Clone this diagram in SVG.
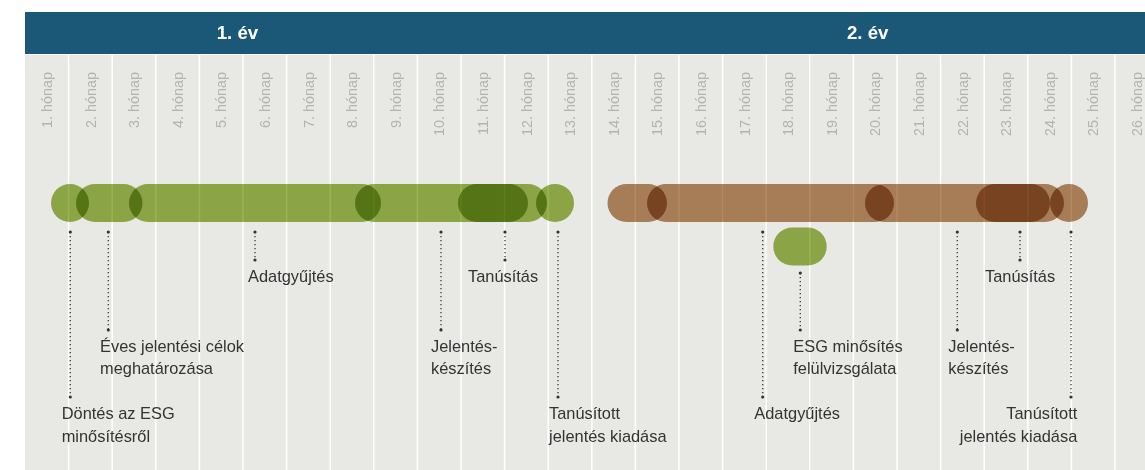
<svg xmlns="http://www.w3.org/2000/svg" width="1145" height="470" viewBox="0 0 1145 470">
<style>
.hdr{fill:#1b5878}
.bg{fill:#e8e8e4}
.grid line{stroke:#ffffff;stroke-width:1.5}
.mon{font-family:"Liberation Sans",Arial,sans-serif;font-size:14.4px;fill:#b4b4ae;text-anchor:end}
.yr{font-family:"Liberation Sans",Arial,sans-serif;font-size:18.7px;font-weight:bold;fill:#ffffff;text-anchor:middle}
.g{fill:#99b44e;mix-blend-mode:multiply}
.b{fill:#b78960;mix-blend-mode:multiply}
.lbl{font-family:"Liberation Sans",Arial,sans-serif;font-size:16.4px;fill:#333333}
.end{text-anchor:end}
.con line{stroke:#444444;stroke-width:1.4;stroke-dasharray:1.3 2.7}
.con circle{fill:#333333}
</style>
<rect class="hdr" x="25" y="12" width="1120" height="42"/>
<rect class="bg" x="25" y="55" width="1120" height="415"/>
<g id="grid" class="grid">
<line x1="68.6" y1="55" x2="68.6" y2="470"/>
<line x1="112.2" y1="55" x2="112.2" y2="470"/>
<line x1="155.8" y1="55" x2="155.8" y2="470"/>
<line x1="199.4" y1="55" x2="199.4" y2="470"/>
<line x1="243" y1="55" x2="243" y2="470"/>
<line x1="286.6" y1="55" x2="286.6" y2="470"/>
<line x1="330.2" y1="55" x2="330.2" y2="470"/>
<line x1="373.8" y1="55" x2="373.8" y2="470"/>
<line x1="417.4" y1="55" x2="417.4" y2="470"/>
<line x1="461" y1="55" x2="461" y2="470"/>
<line x1="504.6" y1="55" x2="504.6" y2="470"/>
<line x1="548.2" y1="55" x2="548.2" y2="470"/>
<line x1="591.8" y1="55" x2="591.8" y2="470"/>
<line x1="635.4" y1="55" x2="635.4" y2="470"/>
<line x1="679" y1="55" x2="679" y2="470"/>
<line x1="722.6" y1="55" x2="722.6" y2="470"/>
<line x1="766.2" y1="55" x2="766.2" y2="470"/>
<line x1="809.8" y1="55" x2="809.8" y2="470"/>
<line x1="853.4" y1="55" x2="853.4" y2="470"/>
<line x1="897" y1="55" x2="897" y2="470"/>
<line x1="940.6" y1="55" x2="940.6" y2="470"/>
<line x1="984.2" y1="55" x2="984.2" y2="470"/>
<line x1="1027.8" y1="55" x2="1027.8" y2="470"/>
<line x1="1071.4" y1="55" x2="1071.4" y2="470"/>
<line x1="1115" y1="55" x2="1115" y2="470"/>
</g>
<g id="years">
<text class="yr" x="237.5" y="39">1. év</text>
<text class="yr" x="867.7" y="39">2. év</text>
</g>
<g id="months">
<text class="mon" transform="translate(52,72) rotate(-90)">1. hónap</text>
<text class="mon" transform="translate(95.6,72) rotate(-90)">2. hónap</text>
<text class="mon" transform="translate(139.2,72) rotate(-90)">3. hónap</text>
<text class="mon" transform="translate(182.8,72) rotate(-90)">4. hónap</text>
<text class="mon" transform="translate(226.4,72) rotate(-90)">5. hónap</text>
<text class="mon" transform="translate(270,72) rotate(-90)">6. hónap</text>
<text class="mon" transform="translate(313.6,72) rotate(-90)">7. hónap</text>
<text class="mon" transform="translate(357.2,72) rotate(-90)">8. hónap</text>
<text class="mon" transform="translate(400.8,72) rotate(-90)">9. hónap</text>
<text class="mon" transform="translate(444.4,72) rotate(-90)">10. hónap</text>
<text class="mon" transform="translate(488,72) rotate(-90)">11. hónap</text>
<text class="mon" transform="translate(531.6,72) rotate(-90)">12. hónap</text>
<text class="mon" transform="translate(575.2,72) rotate(-90)">13. hónap</text>
<text class="mon" transform="translate(618.8,72) rotate(-90)">14. hónap</text>
<text class="mon" transform="translate(662.4,72) rotate(-90)">15. hónap</text>
<text class="mon" transform="translate(706,72) rotate(-90)">16. hónap</text>
<text class="mon" transform="translate(749.6,72) rotate(-90)">17. hónap</text>
<text class="mon" transform="translate(793.2,72) rotate(-90)">18. hónap</text>
<text class="mon" transform="translate(836.8,72) rotate(-90)">19. hónap</text>
<text class="mon" transform="translate(880.4,72) rotate(-90)">20. hónap</text>
<text class="mon" transform="translate(924,72) rotate(-90)">21. hónap</text>
<text class="mon" transform="translate(967.6,72) rotate(-90)">22. hónap</text>
<text class="mon" transform="translate(1011.2,72) rotate(-90)">23. hónap</text>
<text class="mon" transform="translate(1054.8,72) rotate(-90)">24. hónap</text>
<text class="mon" transform="translate(1098.4,72) rotate(-90)">25. hónap</text>
<text class="mon" transform="translate(1142,72) rotate(-90)">26. hónap</text>
</g>
<g id="bars">
<g id="y1-dontes"><circle class="g" cx="70" cy="203" r="19"/></g>
<g id="y1-celok"><rect class="g" x="76" y="184" width="66.5" height="38" rx="19"/></g>
<g id="y1-adatgyujtes"><rect class="g" x="129" y="184" width="252" height="38" rx="19"/></g>
<g id="y1-jelentes"><rect class="g" x="355" y="184" width="192" height="38" rx="19"/></g>
<g id="y1-tanusitas"><rect class="g" x="458" y="184" width="70" height="38" rx="19"/></g>
<g id="y1-kiadas"><circle class="g" cx="555" cy="203" r="19"/></g>
<g id="y2-celok"><rect class="b" x="607.5" y="184" width="59.5" height="38" rx="19"/></g>
<g id="y2-adatgyujtes"><rect class="b" x="647" y="184" width="247" height="38" rx="19"/></g>
<g id="y2-jelentes"><rect class="b" x="865" y="184" width="199" height="38" rx="19"/></g>
<g id="y2-tanusitas"><rect class="b" x="976" y="184" width="74" height="38" rx="19"/></g>
<g id="y2-kiadas"><circle class="b" cx="1069" cy="203" r="19"/></g>
<g id="y2-esg"><rect class="g" x="773.3" y="227.5" width="53.4" height="38" rx="19"/></g>
</g>
<g id="connectors" class="con">
<line x1="70.3" y1="232" x2="70.3" y2="397"/><circle cx="70.3" cy="232" r="1.6"/><circle cx="70.3" cy="397" r="1.6"/>
<line x1="108.3" y1="232" x2="108.3" y2="330"/><circle cx="108.3" cy="232" r="1.6"/><circle cx="108.3" cy="330" r="1.6"/>
<line x1="255" y1="232" x2="255" y2="260"/><circle cx="255" cy="232" r="1.6"/><circle cx="255" cy="260" r="1.6"/>
<line x1="441" y1="232" x2="441" y2="330"/><circle cx="441" cy="232" r="1.6"/><circle cx="441" cy="330" r="1.6"/>
<line x1="505" y1="232" x2="505" y2="260"/><circle cx="505" cy="232" r="1.6"/><circle cx="505" cy="260" r="1.6"/>
<line x1="558" y1="232" x2="558" y2="397"/><circle cx="558" cy="232" r="1.6"/><circle cx="558" cy="397" r="1.6"/>
<line x1="762.7" y1="232" x2="762.7" y2="397"/><circle cx="762.7" cy="232" r="1.6"/><circle cx="762.7" cy="397" r="1.6"/>
<line x1="800.3" y1="273" x2="800.3" y2="330"/><circle cx="800.3" cy="273" r="1.6"/><circle cx="800.3" cy="330" r="1.6"/>
<line x1="957.3" y1="232" x2="957.3" y2="330"/><circle cx="957.3" cy="232" r="1.6"/><circle cx="957.3" cy="330" r="1.6"/>
<line x1="1020" y1="232" x2="1020" y2="260"/><circle cx="1020" cy="232" r="1.6"/><circle cx="1020" cy="260" r="1.6"/>
<line x1="1071" y1="232" x2="1071" y2="397"/><circle cx="1071" cy="232" r="1.6"/><circle cx="1071" cy="397" r="1.6"/>
</g>
<g id="labels">
<g id="lbl-y1-dontes"><text class="lbl" x="61.7" y="419">Döntés az ESG</text><text class="lbl" x="61.7" y="441.5">minősítésről</text></g>
<g id="lbl-y1-celok"><text class="lbl" x="100" y="352">Éves jelentési célok</text><text class="lbl" x="100" y="374">meghatározása</text></g>
<g id="lbl-y1-adat"><text class="lbl" x="248" y="282">Adatgyűjtés</text></g>
<g id="lbl-y1-jel"><text class="lbl" x="431" y="352">Jelentés-</text><text class="lbl" x="431" y="374">készítés</text></g>
<g id="lbl-y1-tan"><text class="lbl" x="468" y="282">Tanúsítás</text></g>
<g id="lbl-y1-kiad"><text class="lbl" x="549" y="419">Tanúsított</text><text class="lbl" x="549" y="441.5">jelentés kiadása</text></g>
<g id="lbl-y2-adat"><text class="lbl" x="754.3" y="419">Adatgyűjtés</text></g>
<g id="lbl-y2-esg"><text class="lbl" x="793.3" y="352">ESG minősítés</text><text class="lbl" x="793.3" y="374">felülvizsgálata</text></g>
<g id="lbl-y2-jel"><text class="lbl" x="948.3" y="352">Jelentés-</text><text class="lbl" x="948.3" y="374">készítés</text></g>
<g id="lbl-y2-tan"><text class="lbl" x="985" y="282">Tanúsítás</text></g>
<g id="lbl-y2-kiad"><text class="lbl end" x="1077.3" y="419">Tanúsított</text><text class="lbl end" x="1077.3" y="441.5">jelentés kiadása</text></g>
</g>
</svg>
